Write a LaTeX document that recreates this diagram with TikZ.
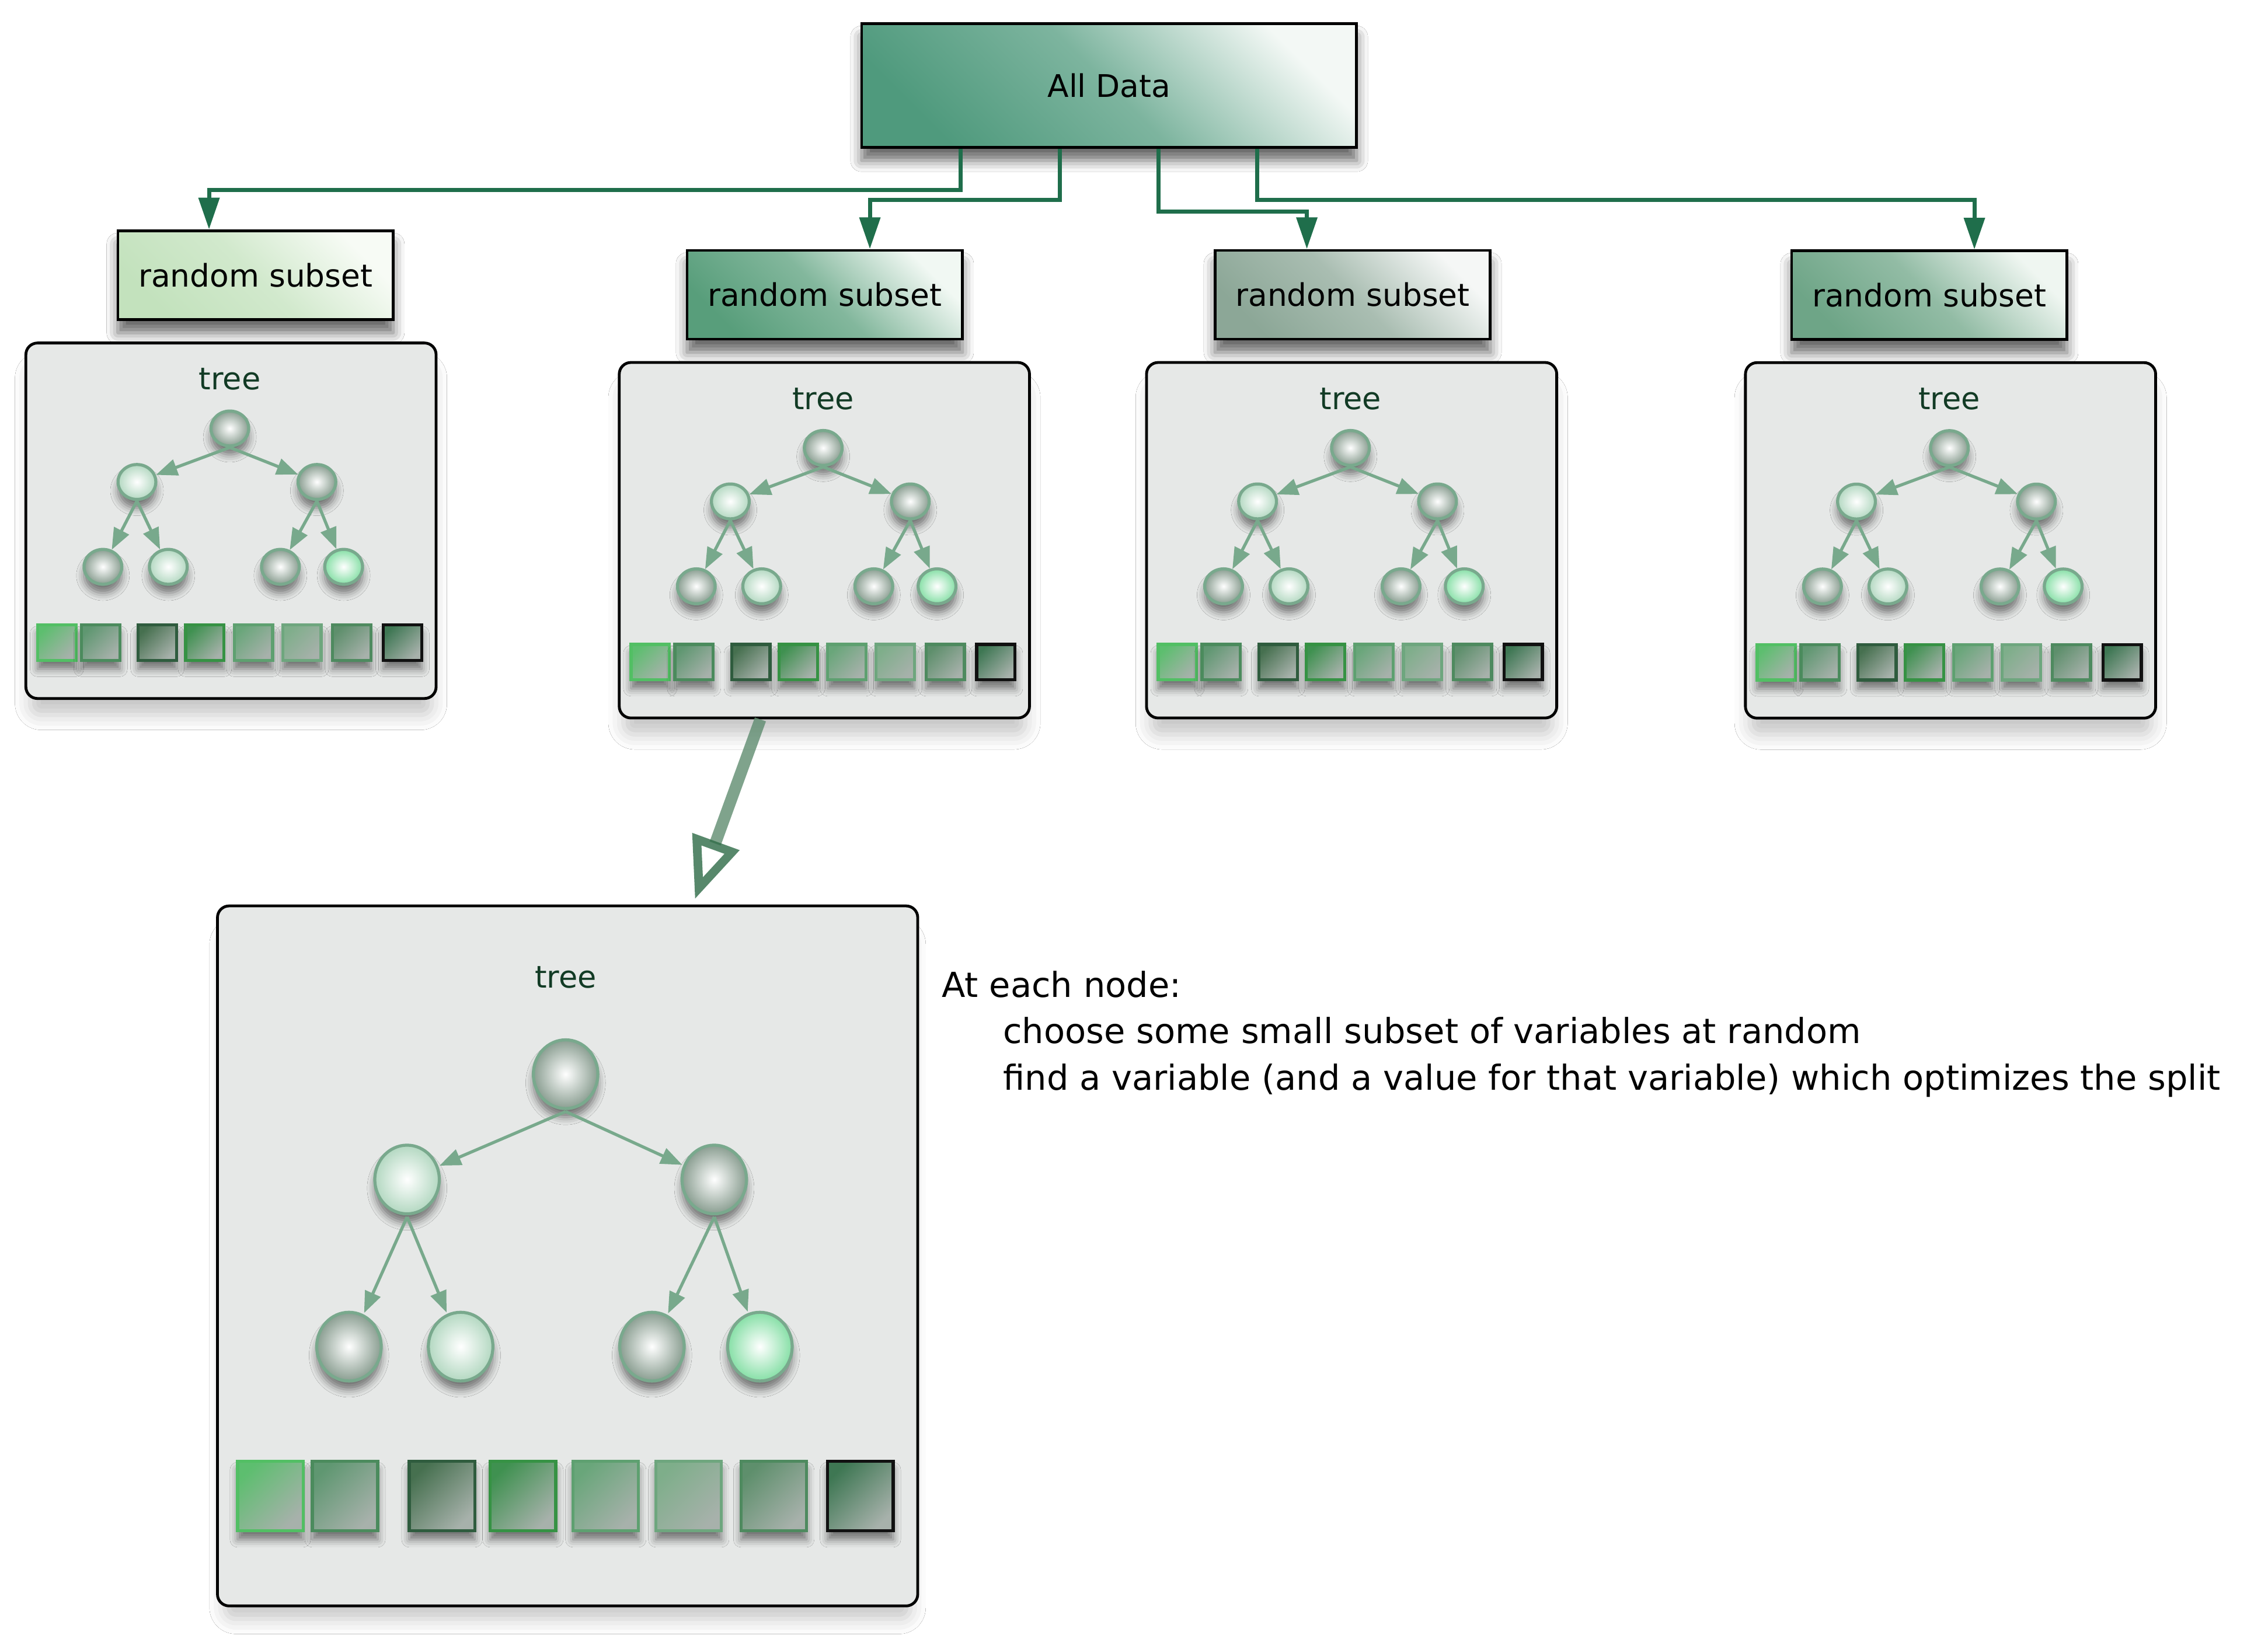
\documentclass[tikz,border=0pt]{standalone}
\usepackage{fontspec}
\setmainfont{DejaVu Sans}
\usetikzlibrary{arrows.meta, shapes.geometric, shadows.blur}
\definecolor{linkc}{HTML}{1F6E4B}
\definecolor{bigc}{HTML}{5F8C70}
\definecolor{bigtip}{HTML}{2E6B47}
\definecolor{treebgc}{HTML}{E6E8E7}
\definecolor{orbline}{HTML}{79A98D}
\definecolor{orbA}{HTML}{8A9E91}
\definecolor{orbB}{HTML}{B3D8C1}
\definecolor{orbC}{HTML}{86DFA6}
\definecolor{edgec}{HTML}{78A98C}
\definecolor{labelc}{HTML}{123B25}
\definecolor{sqgray}{HTML}{A7B1AB}
\definecolor{sqA}{HTML}{5DBE6F} \definecolor{sqlA}{HTML}{52BF64}
\definecolor{sqB}{HTML}{5F9771} \definecolor{sqlB}{HTML}{4B8B5D}
\definecolor{sqC}{HTML}{46704F} \definecolor{sqlC}{HTML}{2F5C3E}
\definecolor{sqD}{HTML}{3F9150} \definecolor{sqlD}{HTML}{369244}
\definecolor{sqE}{HTML}{69A67A} \definecolor{sqlE}{HTML}{5EA070}
\definecolor{sqF}{HTML}{7EAE8A} \definecolor{sqlF}{HTML}{6EA67E}
\definecolor{sqG}{HTML}{5E8F6C} \definecolor{sqlG}{HTML}{4E8A5F}
\definecolor{sqH}{HTML}{3E7753} \definecolor{sqlH}{HTML}{111111}
\definecolor{allA}{HTML}{4F9A7D} \definecolor{allB}{HTML}{F3F8F5}
\definecolor{rsA1}{HTML}{C3E2BD} \definecolor{rsB1}{HTML}{F7FBF5}
\definecolor{rsA2}{HTML}{589E7B} \definecolor{rsB2}{HTML}{F1F8F3}
\definecolor{rsA3}{HTML}{8CA797} \definecolor{rsB3}{HTML}{F5F7F6}
\definecolor{rsA4}{HTML}{6EA587} \definecolor{rsB4}{HTML}{EFF6F1}

\begin{document}
\begin{tikzpicture}[
  datalink/.style = {draw=linkc, line width=0.8pt, -{Triangle[length=6.2pt, width=4pt]}},
  bigarrow/.style = {draw=bigc, draw opacity=0.8, line width=2.3pt,
    -{Triangle[open, length=12pt, width=9.4pt, line width=1.7pt, color=bigtip]}},
  topbox/.style = {draw=black, line width=0.55pt, inner sep=0pt, font=\fontsize{6.1}{7}\selectfont,
    blur shadow={shadow xshift=0pt, shadow yshift=-2.6pt, shadow blur radius=2.2pt, shadow opacity=60}},
  subset/.style = {topbox, minimum width=1.894cm, minimum height=0.61cm},
  tint/.style 2 args = {bottom color=#1, top color=#2, middle color=#1!72!#2, shading angle=-45},
  treebg/.style = {draw=black, line width=0.55pt, fill=treebgc, rounded corners=0.08cm,
    minimum width=2.822cm, minimum height=2.446cm, inner sep=0pt, transform shape,
    blur shadow={shadow xshift=0pt, shadow yshift=-4pt, shadow scale=0.98, shadow blur radius=3pt, shadow opacity=22}},
  treelabel/.style = {inner sep=0pt, text=labelc, font=\fontsize{6}{7}\selectfont},
  orb/.style = {ellipse, minimum width=0.26cm, minimum height=0.24cm, inner sep=0pt,
    draw=orbline, line width=0.6pt, inner color=white, transform shape,
    blur shadow={shadow xshift=0pt, shadow yshift=-1.7pt, shadow blur radius=1.5pt, shadow opacity=50}},
  treelink/.style = {draw=edgec, line width=0.6pt, -{Triangle[length=4.2pt, width=3.2pt]}},
  featsq/.style = {minimum width=0.264cm, minimum height=0.244cm, inner sep=0pt, line width=0.6pt,
    transform shape,
    blur shadow={shadow xshift=0pt, shadow yshift=-1.7pt, shadow blur radius=1.5pt, shadow opacity=50}},
  note/.style = {anchor=base west, inner sep=0pt, font=\fontsize{6.75}{9}\selectfont},
  treebox/.pic = {
    \node[treebg] (-box) at (1.411,-1.223) {};
    \node[treelabel] (-lbl) at (1.403,-0.25) {tree};
    \node[orb, outer color=orbA] (-r) at (1.403,-0.588) {};
    \node[orb, outer color=orbB] (-a) at (0.764,-0.956) {};
    \node[orb, outer color=orbA] (-b) at (2.002,-0.956) {};
    \node[orb, outer color=orbA] (-c) at (0.530,-1.540) {};
    \node[orb, outer color=orbB] (-d) at (0.980,-1.540) {};
    \node[orb, outer color=orbA] (-e) at (1.751,-1.540) {};
    \node[orb, outer color=orbC] (-f) at (2.186,-1.540) {};
    \foreach \p/\q in {r/a, r/b, a/c, a/d, b/e, b/f}
      \draw[treelink] (-\p.south) -- (-\q);
    \foreach \x/\c/\l [count=\i] in {0.213/sqA/sqlA, 0.514/sqB/sqlB, 0.905/sqC/sqlC, 1.231/sqD/sqlD,
        1.565/sqE/sqlE, 1.899/sqF/sqlF, 2.242/sqG/sqlG, 2.591/sqH/sqlH}
      \node[featsq, top color=\c, bottom color=sqgray, shading angle=45, draw=\l] (-s\i) at (\x,-2.062) {};
  }]
  \path[use as bounding box, fill=white] (0,0) rectangle (15.602,-11.325);

  \node[topbox, minimum width=3.405cm, minimum height=0.85cm, tint={allA}{allB}] (all) at (7.63,-0.588) {All Data};
  \node[subset, tint={rsA1}{rsB1}] (rs1) at (1.758,-1.893) {random subset};
  \node[subset, tint={rsA2}{rsB2}] (rs2) at (5.674,-2.028) {random subset};
  \node[subset, tint={rsA3}{rsB3}] (rs3) at (9.305,-2.028) {random subset};
  \node[subset, tint={rsA4}{rsB4}] (rs4) at (13.272,-2.031) {random subset};

  \draw[datalink] ([xshift=-1.02cm]all.south) -- ++(0,-0.285) -| ([xshift=-0.32cm]rs1.north);
  \draw[datalink] ([xshift=-0.34cm]all.south) -- ++(0,-0.352) -| ([xshift=0.31cm]rs2.north);
  \draw[datalink] ([xshift=0.34cm]all.south) -- ++(0,-0.435) -| ([xshift=-0.315cm]rs3.north);
  \draw[datalink] ([xshift=1.02cm]all.south) -- ++(0,-0.352) -| ([xshift=0.31cm]rs4.north);

  \pic (t1) at (0.178,-2.36) {treebox};
  \pic (t2) at (4.26,-2.494) {treebox};
  \pic (t3) at (7.887,-2.494) {treebox};
  \pic (t4) at (12.007,-2.495) {treebox};
  \begin{scope}[shift={(1.496,-6.233)}]
    \pic[xscale=1.707, yscale=1.969] (tb) {treebox};
  \end{scope}

  \draw[bigarrow] ([xshift=-0.44cm]t2-box.south) -- ([xshift=0.876cm, yshift=0.028cm]tb-box.north);

  \node[note] (n1) at (6.473,-6.86) {At each node:};
  \node[note] (n2) at (6.894,-7.18) {choose some small subset of variables at random};
  \node[note] (n3) at (6.894,-7.50) {find a variable (and a value for that variable) which optimizes the split};
\end{tikzpicture}
\end{document}
